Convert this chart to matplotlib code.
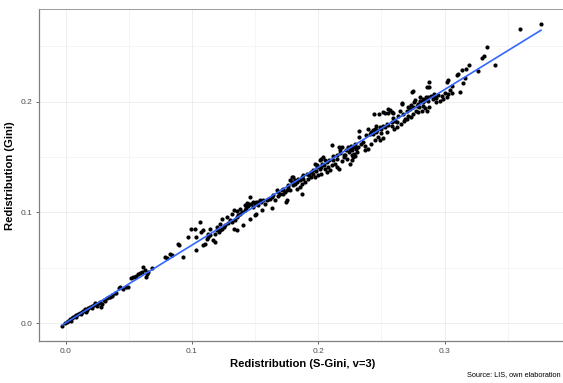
import numpy as np
import matplotlib
matplotlib.use("Agg")
import matplotlib.pyplot as plt
from matplotlib.ticker import MultipleLocator

plt.rcParams['font.family'] = ['Liberation Sans', 'DejaVu Sans']

# Redistribution measured with S-Gini (v=3) vs. Gini, one point per survey
s_gini = [
    -0.003, -0.0005, 0.001, 0.002, 0.0035, 0.004, 0.005, 0.006, 0.0075, 0.008,
    0.0085, 0.010, 0.0115, 0.012, 0.0125, 0.014, 0.0155, 0.016, 0.0165, 0.018,
    0.019, 0.0205, 0.021, 0.022, 0.023, 0.0245, 0.025, 0.026, 0.027, 0.028,
    0.0285, 0.030, 0.031, 0.0325, 0.034, 0.035, 0.0365, 0.037, 0.039, 0.040,
    0.0425, 0.043, 0.045, 0.048, 0.0495,
    0.052, 0.0535, 0.055, 0.056, 0.0575, 0.059, 0.060, 0.0615, 0.063, 0.0635,
    0.064, 0.0655, 0.068, 0.0785, 0.080, 0.0825, 0.084, 0.089, 0.090, 0.093,
    0.097, 0.0995, 0.1025, 0.1035, 0.1035, 0.106, 0.1075, 0.109, 0.109, 0.110,
    0.1115, 0.113, 0.113, 0.1145, 0.1145, 0.117, 0.118, 0.118, 0.1195, 0.1195,
    0.121, 0.122, 0.1222, 0.1235, 0.1235, 0.125, 0.126, 0.1274, 0.1285, 0.130,
    0.1315, 0.1314, 0.133, 0.133, 0.134, 0.1354, 0.1355, 0.1355, 0.1365, 0.138,
    0.138, 0.1395, 0.1405, 0.142, 0.142, 0.143, 0.1433, 0.1445, 0.1455, 0.146,
    0.146, 0.147, 0.1485, 0.1485, 0.150, 0.150, 0.151, 0.151, 0.1525, 0.1525,
    0.154, 0.155, 0.1555, 0.1565, 0.1578, 0.159, 0.160, 0.162, 0.163, 0.163,
    0.1644, 0.1655, 0.167, 0.168, 0.1683, 0.1695, 0.171, 0.1718, 0.172, 0.1735,
    0.1745, 0.175, 0.175, 0.176, 0.1763, 0.1775, 0.1776, 0.179, 0.1789, 0.180,
    0.180, 0.1815, 0.1815, 0.183, 0.183, 0.184, 0.1855, 0.1855, 0.187, 0.187,
    0.187, 0.188, 0.1881, 0.1895, 0.191, 0.192, 0.1929, 0.1945, 0.1945, 0.1955,
    0.196, 0.197, 0.197, 0.1982, 0.199, 0.1992, 0.200, 0.201, 0.201, 0.2018,
    0.2025, 0.2025, 0.2026, 0.204, 0.2045, 0.205, 0.205, 0.2065, 0.2066, 0.2079,
    0.2087, 0.209, 0.2105, 0.2105, 0.2119, 0.212, 0.213, 0.2145, 0.2145, 0.2145,
    0.216, 0.216, 0.217, 0.2172, 0.2185, 0.2185, 0.220, 0.2203, 0.221, 0.222,
    0.2225, 0.2237, 0.224, 0.225, 0.225, 0.2256, 0.2265, 0.2265, 0.227, 0.2272,
    0.2277, 0.228, 0.229, 0.2290, 0.2298, 0.230, 0.2309, 0.2317, 0.2325, 0.2325,
    0.2335, 0.2351, 0.237, 0.237, 0.238, 0.2395, 0.2395, 0.241, 0.242, 0.242,
    0.2435, 0.2435, 0.244, 0.245, 0.245, 0.2456, 0.246, 0.2467, 0.2475, 0.248,
    0.249, 0.249, 0.2493, 0.250, 0.2515, 0.2515, 0.2515, 0.2528, 0.253, 0.254,
    0.2541, 0.2554, 0.2555, 0.2555, 0.257, 0.258, 0.258, 0.2580, 0.259, 0.2595,
    0.2599, 0.2605, 0.262, 0.2625, 0.263, 0.2645, 0.2652, 0.266, 0.266, 0.267,
    0.2678, 0.2685, 0.2699, 0.270, 0.271, 0.271, 0.2725, 0.2731, 0.273, 0.274,
    0.2747, 0.275, 0.275, 0.2755, 0.2765, 0.2773, 0.278, 0.279, 0.279, 0.2799,
    0.2805, 0.2805, 0.282, 0.2826, 0.2826, 0.283, 0.2844, 0.2845, 0.2852, 0.286,
    0.2863, 0.2865, 0.287, 0.288, 0.288, 0.2879, 0.289, 0.2905, 0.291, 0.2916,
    0.2925, 0.2932, 0.293, 0.295, 0.296, 0.2976, 0.2984, 0.3003, 0.3015, 0.302,
    0.303, 0.303, 0.304, 0.3055, 0.3055, 0.3095, 0.3108, 0.3122, 0.3135, 0.3148,
    0.3164, 0.3167, 0.3193, 0.3267, 0.3294, 0.3315, 0.3333, 0.340, 0.3597, 0.3763,
]
gini = [
    -0.0025, 0.0, 0.0015, 0.0025, 0.0035, 0.002, 0.0045, 0.0055, 0.0065, 0.0055,
    0.0075, 0.0085, 0.0095, 0.0085, 0.0105, 0.0115, 0.0125, 0.0105, 0.012, 0.0135,
    0.015, 0.0155, 0.014, 0.0165, 0.018, 0.0175, 0.016, 0.0185, 0.0195, 0.0145,
    0.0175, 0.021, 0.0205, 0.0225, 0.0235, 0.024, 0.0255, 0.0245, 0.027, 0.0275,
    0.0315, 0.033, 0.031, 0.033, 0.0325,
    0.0405, 0.0415, 0.042, 0.0425, 0.0445, 0.045, 0.0465, 0.0505, 0.048, 0.042,
    0.0445, 0.0465, 0.0495, 0.0595, 0.0585, 0.0625, 0.0615, 0.072, 0.0705, 0.060,
    0.078, 0.0855, 0.0855, 0.078, 0.0665, 0.0915, 0.0825, 0.084, 0.071, 0.072,
    0.0765, 0.078, 0.081, 0.0795, 0.0855, 0.075, 0.0735, 0.081, 0.084, 0.087,
    0.0825, 0.084, 0.090, 0.0855, 0.0945, 0.087, 0.0885, 0.096, 0.0905, 0.093,
    0.0915, 0.099, 0.0855, 0.102, 0.093, 0.1013, 0.084, 0.096, 0.0975, 0.099,
    0.1034, 0.1005, 0.0885, 0.1025, 0.1064, 0.1045, 0.1085, 0.1055, 0.1075, 0.114,
    0.0945, 0.108, 0.1095, 0.105, 0.108, 0.0975, 0.1095, 0.099, 0.1095, 0.1064,
    0.111, 0.1095, 0.102, 0.1115, 0.1079, 0.111, 0.1125, 0.1125, 0.114, 0.1045,
    0.1154, 0.1115, 0.120, 0.1145, 0.1184, 0.117, 0.120, 0.1214, 0.117, 0.1185,
    0.1095, 0.111, 0.120, 0.123, 0.1244, 0.129, 0.1199, 0.132, 0.1274, 0.132,
    0.1245, 0.126, 0.1289, 0.1275, 0.1215, 0.1305, 0.123, 0.1289, 0.132, 0.126,
    0.117, 0.1335, 0.1304, 0.1275, 0.135, 0.1305, 0.1334, 0.132, 0.1365, 0.1349,
    0.138, 0.144, 0.132, 0.1379, 0.1425, 0.1409, 0.1335, 0.147, 0.1395, 0.1415,
    0.1485, 0.135, 0.1439, 0.150, 0.1433, 0.147, 0.1395, 0.1365, 0.1454, 0.1409,
    0.1475, 0.138, 0.1425, 0.1605, 0.1514, 0.147, 0.144, 0.1485, 0.141, 0.1523,
    0.159, 0.1395, 0.1565, 0.1535, 0.159, 0.1469, 0.1515, 0.1499, 0.152, 0.156,
    0.1485, 0.1589, 0.1545, 0.1575, 0.144, 0.1604, 0.1515, 0.147, 0.156, 0.1499,
    0.1595, 0.153, 0.162, 0.1514, 0.1574, 0.159, 0.1544, 0.1589, 0.1735, 0.1685,
    0.1619, 0.1634, 0.160, 0.156, 0.1695, 0.1755, 0.1575, 0.171, 0.1725, 0.162,
    0.1745, 0.171, 0.189, 0.1755, 0.1655, 0.1724, 0.1785, 0.1745, 0.168, 0.189,
    0.177, 0.165, 0.1754, 0.1715, 0.1785, 0.167, 0.191, 0.1769, 0.1895, 0.180,
    0.1724, 0.1793, 0.190, 0.193, 0.1925, 0.1785, 0.191, 0.1814, 0.185, 0.1895,
    0.1754, 0.183, 0.1815, 0.1775, 0.1875, 0.192, 0.1799, 0.198, 0.199, 0.189,
    0.1823, 0.1845, 0.1844, 0.192, 0.1875, 0.195, 0.1935, 0.1859, 0.1973, 0.209,
    0.1889, 0.195, 0.210, 0.1994, 0.2015, 0.1913, 0.1965, 0.198, 0.1905, 0.1949,
    0.201, 0.204, 0.192, 0.2024, 0.1964, 0.1995, 0.1943, 0.2015, 0.2039, 0.213,
    0.1919, 0.2009, 0.204, 0.2175, 0.2135, 0.1955, 0.2054, 0.2025, 0.2055, 0.2069,
    0.204, 0.2033, 0.1995, 0.206, 0.201, 0.2054, 0.2024, 0.2075, 0.2045, 0.218,
    0.207, 0.2195, 0.211, 0.208, 0.214, 0.224, 0.225, 0.209, 0.2286, 0.2172,
    0.2218, 0.2295, 0.233, 0.228, 0.239, 0.2412, 0.249, 0.233, 0.2653, 0.270,
]

x_ticks = [0.0, 0.1, 0.2, 0.3]
y_ticks = [0.0, 0.1, 0.2]

x = np.array(s_gini)
y = np.array(gini)

fig = plt.figure(figsize=(5.63, 3.83), dpi=100)
ax = fig.add_axes([38.7 / 563, 1 - 341.3 / 383, 527.3 / 563, 332 / 383])

# grid like ggplot (major + minor)
ax.xaxis.set_minor_locator(MultipleLocator(0.05))
ax.yaxis.set_minor_locator(MultipleLocator(0.05))
ax.grid(True, which='major', color='#ebebeb', lw=0.6)
ax.grid(True, which='minor', color='#f2f2f2', lw=0.5)
ax.set_axisbelow(True)

ax.scatter(x, y, s=9, color='black', lw=0, zorder=3)

# linear fit (geom_smooth, method = "lm")
b, a = np.polyfit(x, y, 1)
xs = np.array([x.min(), x.max()])
ax.plot(xs, a + b * xs, color='#3366FF', lw=1.2, zorder=4)

ax.set_xlim(-0.0214, 0.3961)
ax.set_ylim(-0.01625, 0.2834)
ax.set_xticks(x_ticks)
ax.set_yticks(y_ticks)
ax.set_xticklabels(['%.1f' % v for v in x_ticks])
ax.set_yticklabels(['%.1f' % v for v in y_ticks])
ax.tick_params(which='major', length=2.5, width=0.6, color='#4d4d4d',
               labelsize=6, labelcolor='#4d4d4d', pad=2)
ax.tick_params(which='minor', length=0)

for side in ['left', 'bottom']:
    ax.spines[side].set_color('#808080')
    ax.spines[side].set_linewidth(0.9)
ax.spines['top'].set_color('#999999')
ax.spines['top'].set_linewidth(0.7)
ax.spines['right'].set_visible(False)

ax.set_xlabel('Redistribution (S-Gini, v=3)', fontsize=8.1, fontweight='bold', labelpad=3)
ax.set_ylabel('Redistribution (Gini)', fontsize=8.1, fontweight='bold', labelpad=4)

fig.text(561 / 563, 1 - 375 / 383, 'Source: LIS, own elaboration', fontsize=5.3,
         ha='right', va='center', color='black')

fig.savefig('out.png', dpi=100)
